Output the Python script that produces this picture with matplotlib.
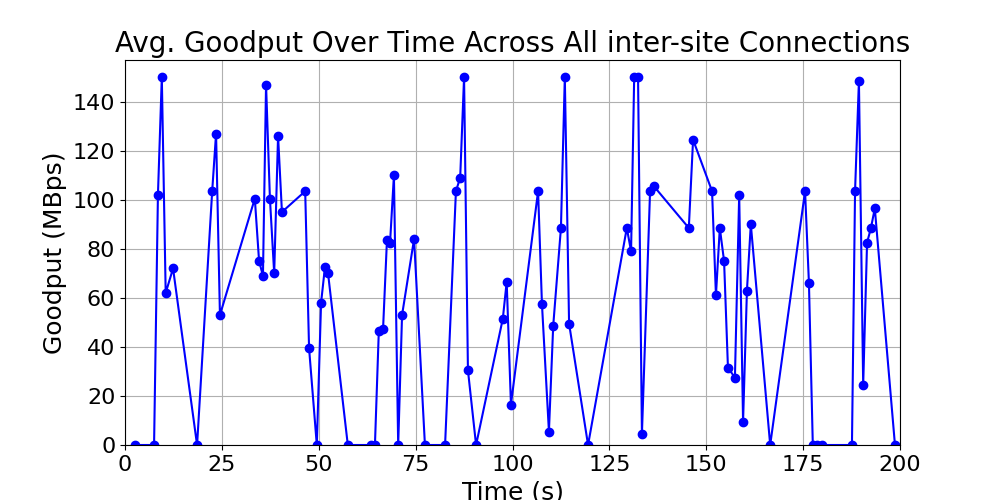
import matplotlib
matplotlib.use("Agg")
import matplotlib.pyplot as plt

time_s = [2.6, 7.5, 8.5, 9.5, 10.5, 12.4, 18.6, 22.5, 23.5, 24.5, 33.5, 34.6, 35.6, 36.4, 37.4, 38.5, 39.5, 40.5,
          46.5, 47.5, 49.5, 50.6, 51.6, 52.4, 57.5, 63.5, 64.5, 65.5, 66.6, 67.6, 68.4, 69.4, 70.5, 71.5, 74.6, 77.4,
          82.6, 85.4, 86.5, 87.5, 88.5, 90.6, 97.5, 98.5, 99.6, 106.6, 107.6, 109.4, 110.5, 112.5, 113.5, 114.6, 119.5,
          129.5, 130.6, 131.4, 132.4, 133.4, 135.5, 136.5, 145.5, 146.6, 151.5, 152.5, 153.5, 154.6, 155.6, 157.4,
          158.5, 159.5, 160.5, 161.5, 166.5, 175.5, 176.5, 177.5, 178.6, 179.9, 187.6, 188.4, 189.4, 190.5, 191.5,
          192.5, 193.5, 198.7]
goodput = [0, 0, 102, 150, 62, 72, 0, 103.5, 127, 53, 100.5, 75, 69, 147, 100.5, 70, 126, 95,
           103.5, 39.5, 0, 58, 72.5, 70, 0, 0, 0, 46.5, 47.5, 83.5, 82.5, 110, 0, 53, 84, 0,
           0, 103.5, 109, 150, 30.5, 0, 51.5, 66.5, 16.5, 103.5, 57.5, 5.5, 48.5, 88.5, 150, 49.5, 0,
           88.5, 79, 150, 150, 4.5, 103.5, 105.5, 88.5, 124.5, 103.5, 61, 88.5, 75, 31.5, 27.5,
           102, 9.5, 63, 90, 0, 103.5, 66, 0, 0, 0, 0, 103.5, 148.5, 24.5, 82.5,
           88.5, 96.5, 0]

fig, ax = plt.subplots(figsize=(10, 5), dpi=100)
ax.plot(time_s, goodput, color="blue", marker="o", linestyle="-")
ax.set_xlim(0, 200)
ax.set_ylim(0, 157)
ax.set_title("Avg. Goodput Over Time Across All inter-site Connections", fontsize=20)
ax.set_xlabel("Time (s)", fontsize=18)
ax.set_ylabel("Goodput (MBps)", fontsize=18)
ax.tick_params(labelsize=16)
ax.grid(True)
plt.savefig("out.png")
